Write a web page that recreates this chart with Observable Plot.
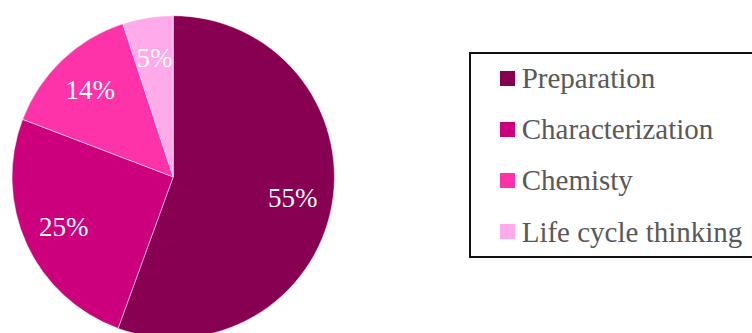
<!DOCTYPE html>
<html>
<head>
<meta charset="utf-8">
<script src="https://cdn.jsdelivr.net/npm/d3@7"></script>
<script src="https://cdn.jsdelivr.net/npm/@observablehq/plot@0.6"></script>
<style>
  html, body { margin: 0; padding: 0; background: #fff; overflow: hidden; }
  #wrap { position: relative; width: 752px; height: 333px; overflow: hidden; }
  #legend { position: absolute; left: 469px; top: 52px; width: 300px; height: 202px; border: 2px solid #111; box-sizing: content-box; }
  .sw { position: absolute; width: 15px; height: 15px; }
  .lt { position: absolute; font-family: "Liberation Serif", "Times New Roman", serif; font-size: 29px; line-height: 29px; color: #595959; white-space: nowrap; }
</style>
</head>
<body>
<div id="wrap"><div id="chart"></div></div>
<script>
const categories = ["Preparation", "Characterization", "Chemisty", "Life cycle thinking"];
const values = [55, 25, 14, 5];
const labels = ["55%", "25%", "14%", "5%"];
const colors = ["#880052", "#CC007D", "#FF33A9", "#FFAAEA"];

const table = categories.map((c, i) => ({category: c, value: values[i], label: labels[i]}));
const arcs = d3.pie().value(d => d.value).sort(null)(table);
const mid = a => (a.startAngle + a.endAngle) / 2;
const labelR = 0.75;

const colorScale = Plot.scale({color: {type: "ordinal", domain: categories, range: colors}});

const pieMark = (index, scales) => {
  const cx = scales.x(0), cy = scales.y(0), r = scales.x(1) - scales.x(0);
  const g = d3.create("svg:g").attr("transform", `translate(${cx},${cy})`);
  const arc = d3.arc().innerRadius(0).outerRadius(r);
  g.selectAll("path").data(arcs).join("path")
    .attr("d", arc)
    .attr("fill", d => colorScale.apply(d.data.category))
    .attr("stroke", "#fff")
    .attr("stroke-width", 0.5);
  return g.node();
};

const chart = Plot.plot({
  width: 752,
  height: 333,
  marginLeft: 12,
  marginRight: 752 - 334.4,
  marginTop: 15.7,
  marginBottom: 333 - 338.1,
  x: {domain: [-1, 1], axis: null},
  y: {domain: [-1, 1], axis: null},
  style: {background: "transparent", overflow: "hidden"},
  marks: [
    pieMark,
    Plot.text(arcs, {
      x: d => Math.sin(mid(d)) * labelR,
      y: d => Math.cos(mid(d)) * labelR,
      text: d => d.data.label,
      fill: "#fff",
      fontSize: 27,
      fontFamily: "'Liberation Serif', 'Times New Roman', serif"
    })
  ]
});
document.getElementById("chart").appendChild(chart);

const legend = document.createElement("div");
legend.id = "legend";
categories.forEach((c, i) => {
  const sw = document.createElement("div");
  sw.className = "sw";
  sw.style.left = (500 - 471) + "px";
  sw.style.top = (70.7 - 54 + i * 51.2) + "px";
  sw.style.background = colorScale.apply(c);
  legend.appendChild(sw);
  const t = document.createElement("div");
  t.className = "lt";
  t.style.left = (521.7 - 471) + "px";
  t.style.top = (64 - 54 + i * 51.2) + "px";
  t.textContent = c;
  legend.appendChild(t);
});
document.getElementById("wrap").appendChild(legend);
</script>
</body>
</html>
